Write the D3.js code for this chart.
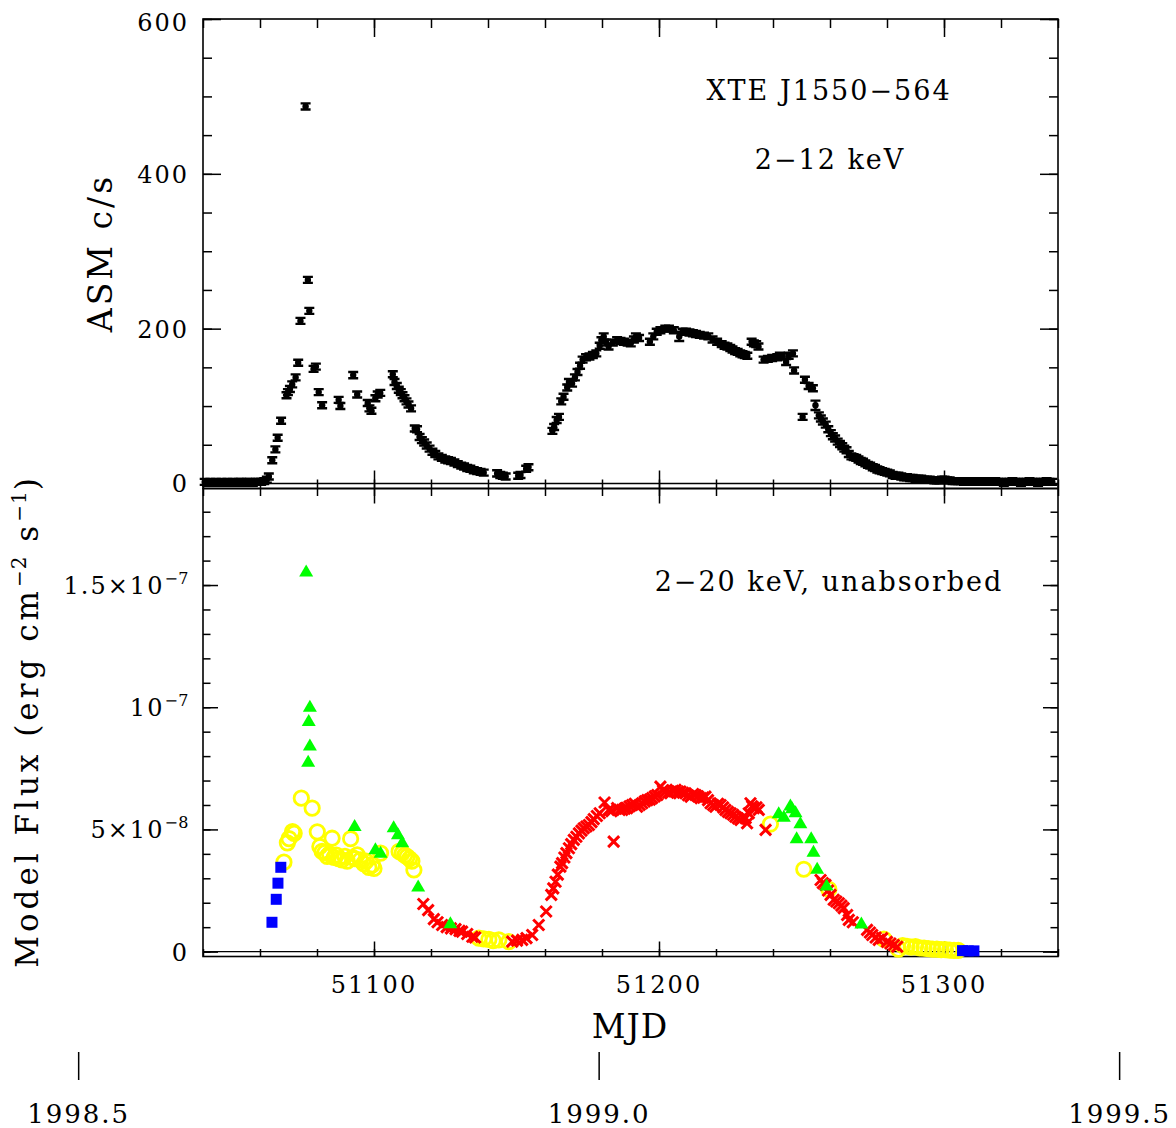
<!DOCTYPE html>
<html>
<head>
<meta charset="utf-8">
<script src="https://cdn.jsdelivr.net/npm/d3@7"></script>
<style>
body { margin: 0; background: #fff; }
text { font-family: "DejaVu Serif", serif; fill: #000; }
</style>
</head>
<body>
<div class="chart-container"></div>
<script>
const width = 1176, height = 1128;

// ---- ASM 2-12 keV light curve (MJD, c/s, error) ----
const asmMjd = [
  51040.6,51041.5,51042.6,51043.4,51044.5,51045.6,51046.5,51047.4,51048.6,51049.5,51050.4,51051.6,51052.5,51053.4,51054.6,51055.5,51056.4,51057.5,51058.6,51059.5,51060.4,51061.5,51062.4,
  51063.1,51064.3,51065.4,51066.2,51067.4,51069.3,51069.8,51070.5,51071.3,51072.5,51073.4,51074.2,51076.0,51076.8,51077.3,51078.8,51079.6,51080.6,51081.8,
  51087.6,51088.2,51092.7,51094.1,51097.8,51098.4,51099.1,51100.5,51101.3,51102.2,
  51106.6,51107.2,51108.0,51108.7,51109.4,51110.0,51110.7,51111.4,51112.1,51113.0,51114.3,51115.1,51116.0,51116.8,51117.6,51118.5,51119.5,51120.5,51121.5,51122.6,51123.8,51125.0,51126.0,51127.0,51128.2,51129.4,51130.6,51131.6,51132.7,51133.8,51135.0,51136.2,51137.4,51138.5,
  51143.2,51144.3,51145.2,51146.2,51150.6,51151.4,51153.4,51154.2,
  51162.6,51163.2,51164.1,51164.9,51165.7,51166.5,51167.8,51168.4,51169.5,51170.5,51171.4,51172.3,51173.2,51174.4,51175.6,51176.8,51178.0,51179.2,51179.8,51180.6,51181.5,51182.3,51183.8,51185.3,51186.5,51187.7,51189.0,51190.1,51191.2,51191.9,51193.0,
  51196.8,51198.0,51199.2,51200.5,51202.2,51203.5,51205.2,51207.1,51208.3,51209.5,51210.7,51211.9,51213.0,51214.3,51215.8,51217.3,51218.8,51220.4,51222.0,51223.0,51224.0,51225.0,51225.8,51226.7,51227.6,51228.5,51229.3,51230.1,51231.0,51232.5,51233.3,51234.1,51234.9,51236.7,51238.2,51239.7,51241.5,51242.4,51243.4,51244.6,51245.5,51247.0,51247.4,
  51250.4,51251.2,51252.5,51254.0,51254.9,
  51256.1,51256.8,51257.5,51258.5,51259.4,51260.3,51261.0,51261.8,51262.7,51263.5,51264.3,51265.0,51265.8,51266.6,51267.5,51268.3,51269.2,51270.0,51270.8,51271.6,51272.4,51273.3,51274.1,51275.0,51275.8,51276.6,51277.4,51278.3,51279.2,51280.1,51281.0,51282.0,51283.0,
  51284.0,51285.0,51286.0,51287.0,51288.1,51289.0,51290.0,51291.0,51292.0,51293.0,51294.0,51295.0,
  51296.6,51297.5,51298.4,51299.3,51300.2,51301.1,
  51302.0,51303.0,51304.0,51305.0,51306.0,51307.0,51308.0,51309.0,51310.0,51311.0,51312.0,51313.0,51314.0,51315.0,51316.0,51317.0,51318.0,51319.0,51320.0,51321.0,51322.0,51323.0,51324.0,51325.0,51326.0,51327.0,51328.0,51329.0,51330.0,51331.0,51332.0,51333.0,51334.0,51335.0,51336.0,51337.0,51338.0
];
const asmRate = [
  2,1,2,1,2,1,2,1,2,1,2,1,2,2,1,2,2,1,2,2,2,3,5,
  9,30,44,59,81,114,118,122,128,137,156,210,487,263,223,148,151,118,101,
  108,100,140,115,104,97,94,110,115,117,
  141,131,126,121,118,114,110,106,102,97,71,70,60,56,53,49,45,41,38,35,33,31,30,29,27,25,23,22,20,19,17,16,15,14,
  13,11,10,9,10,11,19,21,
  68,73,82,86,106,112,124,131,129,137,144,152,160,163,164,166,168,178,185,190,182,177,182,185,184,183,182,181,186,190,188,
  183,190,196,198,200,200,198,190,196,196,195,194,193,192,191,190,186,183,180,178,177,175,173,171,170,168,167,166,165,183,181,180,177,160,161,162,163,165,164,157,165,168,146,
  86,134,126,123,101,
  88,84,80,76,70,65,61,58,54,51,48,45,43,38,35,34,33,31,29,28,26,24,23,21,20,18,17,16,15,14,13,11,10,
  10,9,8,8,7,7,6,6,6,5,5,5,
  4,4,4,5,5,4,
  4,3,3,3,3,2,3,3,2,2,3,2,2,3,2,2,3,2,2,1,2,2,3,2,2,1,2,2,3,2,2,1,2,2,3,2,2
];
const asmErr = [
  3,3,3,3,3,3,3,3,3,3,3,3,3,3,3,3,3,3,3,3,3,3,3,
  3,3,3,3,3,3,3,3,3,3,3,3,4,3,3,3,3,3,3,
  3,3,4,3,3,3,3,3,3,3,
  3,3,3,3,3,3,3,3,3,3,3,3,3,3,3,3,3,3,3,3,3,3,3,3,3,3,3,3,3,3,3,3,3,3,
  4,3,3,3,3,3,3,3,
  3,3,3,3,3,3,3,3,3,3,3,3,3,3,3,3,3,3,3,3,3,3,3,3,3,3,3,3,3,3,3,
  3,3,3,3,3,3,3,6,3,3,3,3,3,3,3,3,3,3,3,3,3,3,3,3,3,3,3,3,3,3,3,3,3,3,3,3,3,3,3,3,3,3,4,
  3,3,3,3,6,
  3,3,3,3,3,3,3,3,3,3,3,3,3,3,3,3,3,3,3,3,3,3,3,3,3,3,3,3,3,3,3,3,3,
  3,3,3,3,3,3,3,3,3,3,3,3,
  3,3,3,3,3,3,
  3,3,3,3,3,3,3,3,3,3,3,3,3,3,3,3,3,3,3,3,3,3,3,3,3,3,3,3,3,3,3,3,3,3,3,3,3
];

// ---- model flux 2-20 keV, in units of 1e-8 erg cm^-2 s^-1 ----
const blueMjd  = [51064.2, 51065.7, 51066.3, 51067.3, 51306.5, 51308.5, 51310.5];
const blueFlux = [1.2, 2.14, 2.8, 3.45, 0.04, 0.03, 0.03];

const greenMjd  = [51076.2, 51076.9, 51077.1, 51077.5, 51077.5, 51093.2, 51100.5, 51102.3, 51106.9, 51108.4,
                   51109.9, 51115.5, 51126.8, 51242.0, 51243.8, 51246.1, 51246.7, 51247.9, 51249.6, 51248.3,
                   51253.4, 51254.2, 51255.5, 51258.8, 51271.0];
const greenFlux = [15.55, 7.77, 9.44, 8.43, 10.02, 5.14, 4.19, 4.05, 5.09, 4.8,
                   4.48, 2.66, 1.16, 5.66, 5.52, 5.98, 5.87, 5.7, 5.25, 4.64,
                   4.64, 4.09, 3.39, 2.71, 1.15];

const yellowMjd  = [51068.4, 51069.6, 51070.2, 51071.4, 51072.0, 51074.5, 51078.3, 51080.1, 51081.0, 51081.8,
                    51082.8, 51083.6, 51084.4, 51085.3, 51086.0, 51086.8, 51087.6, 51088.8, 51089.8, 51090.6,
                    51091.8, 51092.5, 51093.3, 51094.1, 51095.2, 51096.4, 51097.2, 51098.2, 51099.4, 51100.0,
                    51102.3, 51108.8, 51109.9, 51110.8, 51111.6, 51112.5, 51113.3, 51114.0, 51136.8, 51138.5,
                    51140.3, 51141.8, 51143.8, 51147.3, 51239.1, 51250.8, 51259.6, 51278.9, 51284.0, 51285.5,
                    51287.0, 51288.5, 51290.0, 51291.5, 51293.0, 51294.5, 51296.0, 51297.5, 51299.0, 51300.5,
                    51302.0, 51303.5, 51305.0];
const yellowFlux = [3.66, 4.45, 4.62, 4.91, 4.84, 6.28, 5.87, 4.9, 4.3, 4.1,
                    4.05, 3.9, 4.0, 4.64, 3.85, 3.95, 3.8, 3.75, 3.9, 3.7,
                    4.62, 3.85, 3.8, 3.96, 3.75, 3.6, 3.7, 3.45, 3.55, 3.4,
                    4.03, 4.1, 4.03, 3.95, 3.89, 3.8, 3.7, 3.34, 0.55, 0.52,
                    0.5, 0.45, 0.48, 0.41, 5.22, 3.37, 2.55, 0.51, 0.1, 0.25,
                    0.22, 0.18, 0.2, 0.15, 0.14, 0.12, 0.1, 0.1, 0.08, 0.08,
                    0.06, 0.05, 0.05];

const redMjd  = [51117.3, 51119.0, 51121.0, 51122.3, 51123.9, 51125.5, 51127.0, 51128.6, 51130.0, 51130.9,
                 51132.7, 51134.5, 51135.5, 51148.5, 51150.2, 51152.0, 51153.5, 51155.5, 51157.8, 51160.4,
                 51162.2, 51162.9, 51163.7, 51164.5, 51165.4, 51166.0, 51166.8, 51167.5, 51168.4, 51169.2,
                 51170.1, 51171.0, 51171.9, 51172.8, 51173.6, 51174.5, 51175.4, 51176.3, 51177.1, 51178.2,
                 51179.2, 51180.9, 51182.4, 51183.3, 51184.1, 51185.3, 51186.2, 51187.1, 51188.0, 51188.8,
                 51189.7, 51190.6, 51191.5, 51192.3, 51193.2, 51194.1, 51195.0, 51195.9, 51196.8, 51197.6,
                 51198.5, 51199.4, 51200.5, 51201.4, 51202.3, 51203.2, 51204.0, 51204.9, 51205.8, 51206.7,
                 51207.5, 51208.4, 51209.3, 51210.2, 51211.1, 51212.0, 51212.8, 51213.7, 51214.6, 51215.5,
                 51216.3, 51217.2, 51218.1, 51219.0, 51219.8, 51220.7, 51221.6, 51222.5, 51223.3, 51224.2,
                 51225.1, 51226.0, 51226.8, 51227.7, 51228.6, 51229.5, 51230.4, 51230.9, 51231.5, 51232.1,
                 51232.7, 51233.3, 51234.2, 51235.0, 51237.4, 51256.7, 51257.5, 51258.4, 51259.3, 51260.2,
                 51261.3, 51262.2, 51263.1, 51264.0, 51264.8, 51266.0, 51266.6, 51268.0, 51273.0, 51274.0,
                 51274.8, 51276.0, 51277.1, 51278.3, 51280.0, 51281.2, 51282.4, 51283.6];
const redFlux = [1.95, 1.7, 1.33, 1.2, 1.09, 1.0, 0.95, 0.92, 0.85, 0.82,
                 0.72, 0.61, 0.58, 0.41, 0.45, 0.48, 0.55, 0.68, 1.09, 1.64,
                 2.32, 2.59, 2.86, 3.15, 3.48, 3.62, 3.85, 4.03, 4.23, 4.4,
                 4.57, 4.7, 4.84, 4.95, 5.05, 5.12, 5.18, 5.3, 5.42, 5.55,
                 5.66, 6.1, 5.8, 5.75, 4.5, 5.87, 5.8, 5.8, 5.85, 5.87,
                 5.95, 6.0, 6.05, 5.93, 6.0, 6.07, 6.15, 6.2, 6.22, 6.28,
                 6.35, 6.41, 6.75, 6.6, 6.55, 6.5, 6.48, 6.58, 6.62, 6.55,
                 6.55, 6.5, 6.48, 6.4, 6.34, 6.45, 6.41, 6.35, 6.28, 6.3,
                 6.34, 6.2, 6.07, 6.0, 5.93, 6.05, 6.0, 5.9, 5.8, 5.72,
                 5.66, 5.6, 5.52, 5.45, 5.39, 5.5, 5.46, 5.25, 5.66, 6.07,
                 5.95, 5.87, 5.9, 5.8, 4.98, 2.93, 2.8, 2.73, 2.5, 2.32,
                 2.12, 2.05, 1.98, 1.88, 1.78, 1.5, 1.3, 1.2, 0.89, 0.78,
                 0.68, 0.58, 0.48, 0.55, 0.4, 0.33, 0.27, 0.2];

// ---- ticks and labels ----
const mjdLabels = [51100, 51200, 51300];
const asmLabels = [0, 200, 400, 600];
const fluxLabelValues = [0, 5, 10, 15];
const fluxLabelMain = ["0", "5\u00d710", "10", "1.5\u00d710"];
const fluxLabelSup  = ["", "\u22128", "\u22127", "\u22127"];
const years = [1998.5, 1999.0, 1999.5];
const yearText = ["1998.5", "1999.0", "1999.5"];
const mjdOfYear1999 = 51179;

var svg = d3.select(".chart-container")
    .append("svg")
    .attr("width", width)
    .attr("height", height);

var left = 203, right = 1058;
var topY = 19, midY = 488.5, botY = 956.5;

var x = d3.scaleLinear().domain([51040, 51340]).range([left, right]);
var yAsm = d3.scaleLinear().domain([-6.5, 600]).range([midY, topY]);
var yFlux = d3.scaleLinear().domain([-0.2, 18.95]).range([botY, midY]);

var xMinor = d3.range(51040, 51341, 20);

// ticks on all four sides of a panel, pointing inward
function panelTicks(y0, y1, yScale, yMinor, yMajor, majLen, minLen) {
    var g = svg.append("g");
    function clean(a) {
        a.select(".domain").remove();
        a.selectAll("line").attr("stroke", "#000").attr("stroke-width", 1.5);
    }
    g.append("g").attr("transform", "translate(0," + y1 + ")")
        .call(d3.axisBottom(x).tickValues(xMinor).tickSize(-minLen).tickFormat("")).call(clean);
    g.append("g").attr("transform", "translate(0," + y1 + ")")
        .call(d3.axisBottom(x).tickValues(mjdLabels).tickSize(-majLen).tickFormat("")).call(clean);
    g.append("g").attr("transform", "translate(0," + y0 + ")")
        .call(d3.axisTop(x).tickValues(xMinor).tickSize(-minLen).tickFormat("")).call(clean);
    g.append("g").attr("transform", "translate(0," + y0 + ")")
        .call(d3.axisTop(x).tickValues(mjdLabels).tickSize(-majLen).tickFormat("")).call(clean);
    g.append("g").attr("transform", "translate(" + left + ",0)")
        .call(d3.axisLeft(yScale).tickValues(yMinor).tickSize(-minLen).tickFormat("")).call(clean);
    g.append("g").attr("transform", "translate(" + left + ",0)")
        .call(d3.axisLeft(yScale).tickValues(yMajor).tickSize(-majLen).tickFormat("")).call(clean);
    g.append("g").attr("transform", "translate(" + right + ",0)")
        .call(d3.axisRight(yScale).tickValues(yMinor).tickSize(-minLen).tickFormat("")).call(clean);
    g.append("g").attr("transform", "translate(" + right + ",0)")
        .call(d3.axisRight(yScale).tickValues(yMajor).tickSize(-majLen).tickFormat("")).call(clean);
    // frame
    g.append("rect").attr("x", left).attr("y", y0)
        .attr("width", right - left).attr("height", y1 - y0)
        .attr("fill", "none").attr("stroke", "#000").attr("stroke-width", 1.6);
    // zero line
    g.append("line").attr("x1", left).attr("x2", right)
        .attr("y1", yScale(0)).attr("y2", yScale(0))
        .attr("stroke", "#000").attr("stroke-width", 1.4);
}

panelTicks(topY, midY, yAsm, d3.range(0, 601, 50), asmLabels, 18, 9);
panelTicks(midY, botY, yFlux, d3.range(0, 19, 1), fluxLabelValues, 15, 7.5);

// ---- ASM points with error bars ----
var asmGroup = svg.append("g");
asmMjd.forEach(function(m, i) {
    var px = x(m), py = yAsm(asmRate[i]);
    var e = Math.max(3, yAsm(0) - yAsm(asmErr[i] || 3));
    var g = asmGroup.append("g").attr("transform", "translate(" + px + "," + py + ")");
    g.append("path")
        .attr("d", "M-5," + (-e) + "H5M0," + (-e) + "V" + e + "M-5," + e + "H5")
        .attr("stroke", "#000").attr("stroke-width", 2.4).attr("fill", "none");
    g.append("circle").attr("r", 3.2).attr("fill", "#000");
});

// ---- model flux markers ----
var fluxGroup = svg.append("g");

fluxGroup.selectAll("circle.yel")
    .data(d3.range(yellowMjd.length))
    .enter()
    .append("circle")
    .attr("class", "yel")
    .attr("cx", i => x(yellowMjd[i]))
    .attr("cy", i => yFlux(yellowFlux[i]))
    .attr("r", 7.2)
    .attr("fill", "none")
    .attr("stroke", "#ffff00")
    .attr("stroke-width", 2.8);

fluxGroup.selectAll("path.red")
    .data(d3.range(redMjd.length))
    .enter()
    .append("path")
    .attr("class", "red")
    .attr("transform", i => "translate(" + x(redMjd[i]) + "," + yFlux(redFlux[i]) + ")")
    .attr("d", "M-5.5,-5.5L5.5,5.5M-5.5,5.5L5.5,-5.5")
    .attr("stroke", "#ff0000")
    .attr("stroke-width", 3);

fluxGroup.selectAll("path.grn")
    .data(d3.range(greenMjd.length))
    .enter()
    .append("path")
    .attr("class", "grn")
    .attr("transform", i => "translate(" + x(greenMjd[i]) + "," + yFlux(greenFlux[i]) + ")")
    .attr("d", "M0,-7L7,5L-7,5Z")
    .attr("fill", "#00ff00");

fluxGroup.selectAll("rect.blu")
    .data(d3.range(blueMjd.length))
    .enter()
    .append("rect")
    .attr("class", "blu")
    .attr("x", i => x(blueMjd[i]) - 5.5)
    .attr("y", i => yFlux(blueFlux[i]) - 5.5)
    .attr("width", 11)
    .attr("height", 11)
    .attr("fill", "#0000ff");

// ---- tick labels ----
var labels = svg.append("g").style("font-size", "24px").attr("letter-spacing", 2);

labels.selectAll("text.asm")
    .data(asmLabels)
    .enter()
    .append("text")
    .attr("text-anchor", "end")
    .attr("x", 189)
    .attr("y", d => Math.max(yAsm(d) + 9, 31))
    .text(d => d);

fluxLabelValues.forEach(function(v, i) {
    var t = labels.append("text")
        .attr("text-anchor", "end")
        .attr("x", 189)
        .attr("y", yFlux(v) + 9);
    t.append("tspan").text(fluxLabelMain[i]);
    if (fluxLabelSup[i]) {
        t.append("tspan").attr("dy", -10).style("font-size", "16px").attr("letter-spacing", 0.5).text(fluxLabelSup[i]);
    }
});

labels.selectAll("text.mjd")
    .data(mjdLabels)
    .enter()
    .append("text")
    .attr("text-anchor", "middle")
    .attr("x", d => x(d))
    .attr("y", 993)
    .text(d => d);

// ---- year axis underneath ----
var yearGroup = svg.append("g");
years.forEach(function(yr, i) {
    var px = x(mjdOfYear1999 + (yr - 1999) * 365.25);
    yearGroup.append("line")
        .attr("x1", px).attr("x2", px).attr("y1", 1052).attr("y2", 1080)
        .attr("stroke", "#000").attr("stroke-width", 1.5);
    yearGroup.append("text")
        .attr("text-anchor", "middle")
        .attr("x", px).attr("y", 1123)
        .style("font-size", "26px").attr("letter-spacing", 2)
        .text(yearText[i]);
});

// ---- axis titles ----
svg.append("text")
    .attr("text-anchor", "middle")
    .attr("x", 630).attr("y", 1038)
    .style("font-size", "33px").attr("letter-spacing", 1)
    .text("MJD");

svg.append("text")
    .attr("text-anchor", "middle")
    .attr("transform", "translate(112,253) rotate(-90)")
    .style("font-size", "33px").attr("letter-spacing", 3)
    .text("ASM c/s");

var fl = svg.append("text")
    .attr("text-anchor", "middle")
    .attr("transform", "translate(38,721) rotate(-90)")
    .style("font-size", "31px").attr("letter-spacing", 4);
fl.append("tspan").text("Model Flux (erg cm");
fl.append("tspan").attr("dy", -12).style("font-size", "20px").attr("letter-spacing", 1).text("\u22122");
fl.append("tspan").attr("dy", 12).text(" s");
fl.append("tspan").attr("dy", -12).style("font-size", "20px").attr("letter-spacing", 1).text("\u22121");
fl.append("tspan").attr("dy", 12).text(")");

// ---- panel annotations ----
var notes = svg.append("g").style("font-size", "27px").attr("letter-spacing", 2);
notes.append("text").attr("text-anchor", "middle").attr("x", 829).attr("y", 100).text("XTE J1550\u2212564");
notes.append("text").attr("text-anchor", "middle").attr("x", 830).attr("y", 169).text("2\u221212 keV");
notes.append("text").attr("text-anchor", "middle").attr("x", 829).attr("y", 591).text("2\u221220 keV, unabsorbed");
</script>
</body>
</html>
